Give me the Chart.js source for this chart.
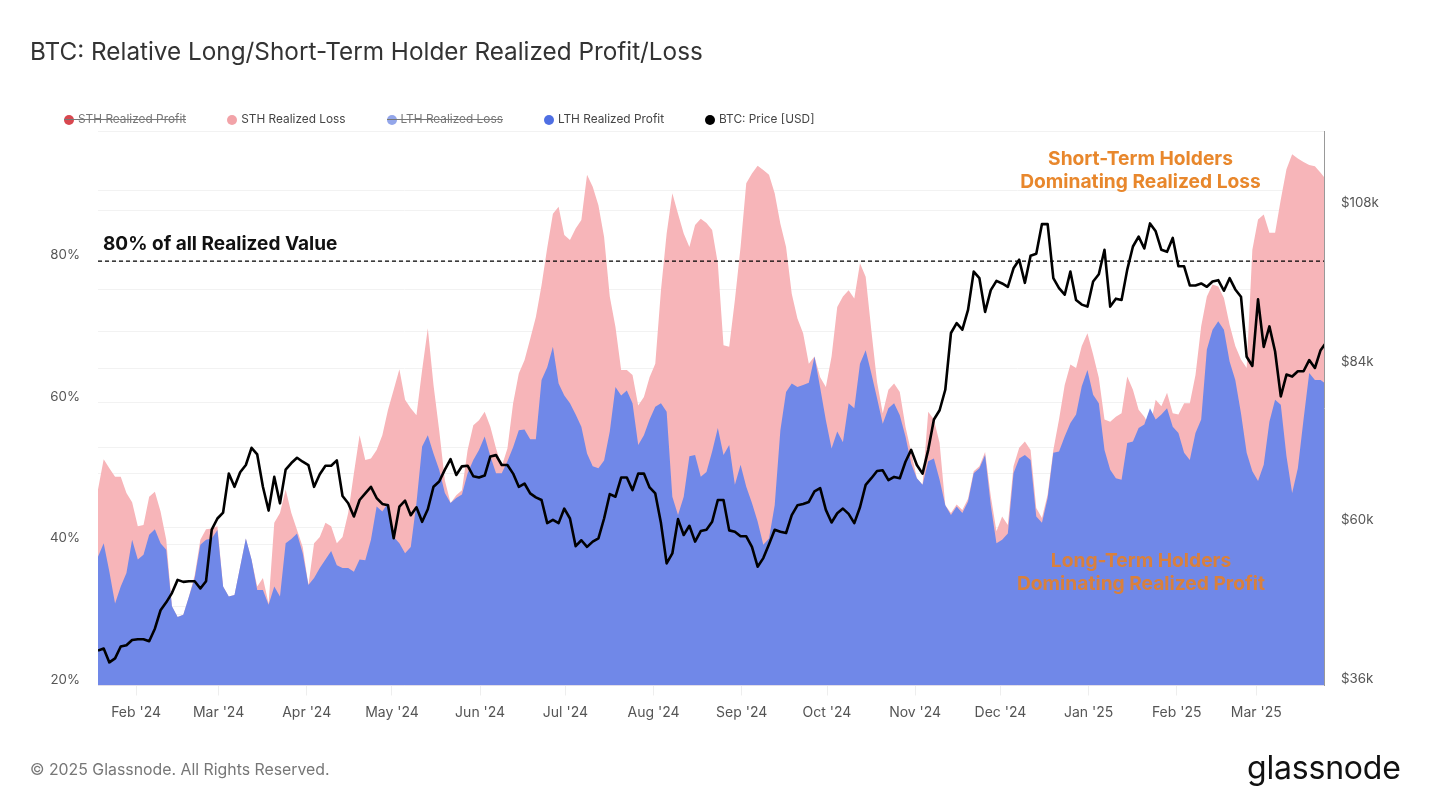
<!DOCTYPE html>
<html>
<head>
<meta charset="utf-8">
<title>BTC: Relative Long/Short-Term Holder Realized Profit/Loss</title>
<script src="https://cdn.jsdelivr.net/npm/chart.js@4/dist/chart.umd.min.js"></script>
<style>
    body { margin: 0; background: #fff; font-family: Inter, sans-serif; }
    #wrap { position: relative; width: 1431px; height: 805px; overflow: hidden; }
    canvas { position: absolute; left: 0; top: 0; }
    .txt { position: absolute; white-space: nowrap; }
    #title { left: 30px; top: 36px; font-size: 24.3px; line-height: 30px; color: #333; }
    #copy { left: 30px; top: 760px; font-size: 15.85px; line-height: 20px; color: #777; }
    #logo { left: 1247px; top: 746px; font-size: 32px; line-height: 44px; color: #111; letter-spacing: -0.2px; }
    #legend { position: absolute; left: 64px; top: 111px; display: flex; gap: 41px; font-size: 11.85px; line-height: 17px; color: #444; }
    .item { position: relative; display: flex; align-items: center; gap: 4px; }
    .item.off { color: #777; }
    .item.off::after { content: ''; position: absolute; left: 0; right: 0; top: 8px; height: 1px; background: #777; }
    .dot { width: 10px; height: 10px; border-radius: 50%; }
    .note { text-align: center; font-size: 19.2px; line-height: 23px; font-weight: 700; }
    #note80 { left: 103px; top: 232px; font-size: 19px; line-height: 24px; font-weight: 700; color: #111; }
    #noteLoss { left: 1000px; width: 281px; top: 147px; color: #e8872c; }
    #noteProfit { left: 1000px; width: 282px; top: 549px; color: #d9803c; }
</style>
</head>
<body>
<div id="wrap">
    <canvas id="chart" width="1431" height="805"></canvas>
    <div class="txt" id="title">BTC: Relative Long/Short-Term Holder Realized Profit/Loss</div>
    <div id="legend"></div>
    <div class="txt" id="note80">80% of all Realized Value</div>
    <div class="txt note" id="noteLoss">Short-Term Holders<br>Dominating Realized Loss</div>
    <div class="txt note" id="noteProfit">Long-Term Holders<br>Dominating Realized Profit</div>
    <div class="txt" id="copy">© 2025 Glassnode. All Rights Reserved.</div>
    <div class="txt" id="logo">glassnode</div>
</div>
<script>
// samples are 2 days apart, first one is 18 Jan 2024
const stepDays = 2;

// month ticks, in days after the first sample
const monthLabels = ["Feb '24", "Mar '24", "Apr '24", "May '24", "Jun '24", "Jul '24", "Aug '24", "Sep '24", "Oct '24", "Nov '24", "Dec '24", "Jan '25", "Feb '25", "Mar '25"];
const monthDays = [13.4, 42.4, 73.4, 103.4, 134.4, 164.4, 195.4, 226.4, 256.4, 287.4, 317.4, 348.4, 379.4, 407.4];

// LTH Realized Profit, share of all realized value (%)
const lthProfit = [
    38.2, 40.1, 36.1, 31.6, 34, 35.9, 40.6, 37.8, 38.5, 41.3, 42.1, 40.1, 39.2, 31.2, 29.7, 30, 32.6, 35.2, 39.9, 40.6,
    40.8, 42, 34, 32.6, 32.8, 36.8, 40.8, 37.8, 33.5, 33.5, 31.4, 34, 32.6, 40.1, 40.7, 41.5, 38.7, 34.2, 35.2, 36.6,
    37.8, 39, 37, 36.6, 36.6, 36.1, 37.8, 37.7, 40.6, 45.3, 44.6, 45.8, 41, 40.1, 38.7, 39.6, 45.8, 53.8, 55.4, 52.8,
    50.5, 47.2, 45.8, 46.5, 47, 50, 51.9, 53.3, 55.2, 52.4, 50, 50, 51.7, 53.7, 56.1, 56.2, 54.8, 54.8, 63.2, 65,
    67.9, 62.7, 61, 59.9, 58.3, 56.6, 52.8, 51, 50.7, 51.8, 55.9, 62.2, 61, 61.7, 59.9, 54, 55.4, 57.6, 59.4, 59.9,
    58.7, 46.7, 44.1, 46.7, 52.4, 52.6, 49.5, 50.2, 53.1, 56.4, 52.6, 54, 48.4, 51.2, 48.1, 45.8, 43.2, 39.9, 40.8, 45.5,
    56.1, 61.5, 62.7, 62.2, 62.5, 62.8, 66.5, 62.1, 57.5, 53.5, 55.9, 54.4, 59.9, 59.2, 65.5, 67.4, 64.1, 60.6, 57, 59.2,
    59.9, 58.2, 55.2, 51.4, 49.3, 48.4, 51.7, 52.1, 49.1, 45.5, 44.1, 45.3, 44.4, 46, 50, 50.7, 52.6, 45.5, 40.1, 40.6,
    41.5, 50, 52.1, 52.6, 51.9, 43.9, 43, 46.5, 52.9, 53.1, 55.2, 57.1, 58.3, 62.3, 64.6, 61.1, 59.9, 53.3, 50.5, 49.3,
    49.1, 54.3, 54.5, 56.4, 56.9, 59.2, 57.6, 58.3, 59.2, 56.6, 55.7, 52.9, 51.9, 55.7, 57.6, 67.5, 70.3, 71.5, 70.3, 65.8,
    63.2, 58.5, 52.9, 50.3, 48.9, 51.2, 57.3, 60.4, 59.7, 52.4, 47.2, 50.7, 57.6, 64.2, 63.2, 63.2, 62.6
];

// top edge of the STH Realized Loss band, stacked over LTH profit (%)
const sthLossTop = [
    47.7, 52, 50.7, 49.5, 49.5, 47.2, 45.9, 42.5, 42.7, 46.7, 47.4, 44.6, 40.6, 31.2, 29.7, 30, 32.6, 35.6, 40.6, 42.1,
    42.2, 42.5, 34, 32.6, 32.8, 36.8, 40.8, 37.8, 34, 35.2, 31.6, 43, 44.4, 47.7, 44.4, 42, 39.6, 34.2, 40.1, 41,
    43, 42.5, 40.1, 41, 44.4, 50, 55.4, 51.9, 52.1, 53.3, 55.4, 59, 61.8, 64.7, 60.4, 59.2, 58.2, 64.6, 70.5, 62.5,
    56.1, 49, 45.8, 46.9, 47.6, 53.3, 56.8, 57.5, 58.7, 56.6, 53.5, 51, 53.5, 59.9, 64.1, 66, 69, 72.1, 76.6, 81.9,
    86.7, 87.7, 83.7, 83, 84.6, 85.8, 92.2, 90.5, 87.9, 83.4, 75, 70.7, 64.6, 64.6, 63.9, 59.6, 60.8, 63.6, 65.5, 75.9,
    83.9, 89.6, 86.7, 83.9, 82, 85.1, 86, 85.4, 84.4, 79.7, 68.1, 67.9, 74.5, 82, 91, 92.4, 93.5, 92.9, 92.2, 89.6,
    85.3, 82, 75.4, 71.9, 69.8, 65.5, 66.5, 63.6, 62.2, 66.5, 73.5, 75, 75.9, 74.7, 79.7, 77.8, 70.2, 62.9, 58.5, 61.8,
    62.7, 61.5, 56.6, 53, 49.3, 48.4, 58.7, 57.6, 54.3, 45.5, 44.4, 45.6, 44.8, 46.4, 50.3, 51, 53, 46.8, 41.8, 43.9,
    42.7, 51, 53.6, 54.5, 53.3, 45.1, 43.7, 47, 53.3, 57.6, 62.5, 65.4, 64.9, 68, 69.8, 66.8, 63.5, 57.6, 57.3, 58,
    58.5, 63.7, 61.8, 59, 58, 56.6, 60.4, 59.5, 61.4, 58.5, 58.3, 59.9, 59.9, 63.9, 70.8, 75, 76.7, 76.4, 74.8, 71,
    68, 66.1, 64.9, 81.6, 85.9, 86.6, 84, 84, 88.7, 93, 95.1, 94.5, 94, 93.6, 93.4, 92.5, 91.5
];

// BTC price (thousand USD)
const btcPrice = [
    41.3, 41.6, 39.5, 40.1, 41.9, 42.1, 42.9, 43, 43, 42.7, 44.6, 47.4, 48.6, 50, 52, 51.7, 51.8, 51.8, 50.7, 51.8,
    59.6, 61.3, 62.2, 68.1, 66.1, 68.3, 69.4, 72, 71, 66.1, 62.5, 67.6, 63.6, 68.7, 69.7, 70.5, 69.9, 69.4, 66.1, 68,
    69.3, 69.3, 70.1, 64.7, 63.6, 61.6, 64.1, 65.1, 66.1, 64.4, 63.5, 63.3, 58.3, 63.1, 64, 61.8, 63, 60.8, 62.7, 66.1,
    66.9, 68.7, 70.3, 67.9, 69.2, 69.3, 67.7, 67.5, 67.8, 70.7, 70.9, 69.4, 69.4, 68.1, 66.1, 66.6, 65.1, 64.5, 64.1, 60.6,
    61.1, 60.6, 62.8, 61.3, 57.1, 58, 57, 57.8, 58.3, 61.3, 65, 64.6, 67.5, 67.5, 65.6, 68.1, 68.1, 66, 65.1, 60.6,
    54.5, 56, 61.2, 58.8, 60.2, 57.8, 59.4, 59.6, 60.8, 64.1, 64.1, 59.5, 59.3, 58.6, 58.6, 57, 54, 55.3, 57.4, 59.6,
    59.3, 59.1, 61.8, 63.3, 63.5, 63.8, 65.4, 65.9, 62.6, 60.7, 62.1, 62.8, 62, 60.6, 63, 66.4, 67.4, 68.5, 68.6, 67.1,
    67.6, 67.4, 69.9, 71.7, 69.4, 68.1, 71.7, 76.3, 77.7, 80.8, 89.4, 90.9, 89.9, 92.9, 98.7, 97.7, 92.6, 95.9, 97.3, 96.9,
    96.4, 99.2, 100.5, 97, 101.1, 101.4, 105.9, 105.9, 97.7, 96.2, 95.2, 98.7, 94.4, 93.7, 93.4, 97.2, 98.3, 102, 93.4, 94.6,
    94.4, 99, 102.5, 104, 102.2, 106, 104.8, 102, 101.7, 103.8, 99.5, 99.5, 96.6, 96.6, 96.9, 96.4, 97.2, 97.4, 95.8, 97.7,
    96, 94.9, 85.8, 84.4, 94.5, 87.3, 90.4, 86.6, 79.8, 83.1, 82.8, 83.6, 83.6, 85.3, 84.1, 86.8, 88
];

const threshold = [80, 80];

const legendNames = ['STH Realized Profit', 'STH Realized Loss', 'LTH Realized Loss', 'LTH Realized Profit', 'BTC: Price [USD]'];
const legendColors = ['#d8474f', '#f2a3a8', '#93a6ea', '#4f6fe3', '#000000'];
const legendHidden = [true, false, true, false, false];

function toPoints(values) {
    return values.map((v, i) => ({ x: i * stepDays, y: v }));
}

function buildLegend() {
    const box = document.getElementById('legend');
    legendNames.forEach((name, i) => {
        const item = document.createElement('div');
        item.className = legendHidden[i] ? 'item off' : 'item';
        const dot = document.createElement('span');
        dot.className = 'dot';
        dot.style.background = legendColors[i];
        const label = document.createElement('span');
        label.textContent = name;
        item.appendChild(dot);
        item.appendChild(label);
        box.appendChild(item);
    });
}

buildLegend();

const xTickFont = { family: 'Inter', size: 14 };
const yTickFont = { family: 'Inter', size: 13.3 };
const dayMax = 431.2;

new Chart(document.getElementById('chart'), {
    type: 'line',
    data: {
        datasets: [
            {
                label: 'STH Realized Loss',
                data: toPoints(sthLossTop),
                yAxisID: 'y',
                backgroundColor: '#f7b5b9',
                borderWidth: 0,
                pointRadius: 0,
                fill: 'origin',
                order: 4
            },
            {
                label: 'LTH Realized Profit',
                data: toPoints(lthProfit),
                yAxisID: 'y',
                backgroundColor: '#7088e8',
                borderWidth: 0,
                pointRadius: 0,
                fill: 'origin',
                order: 3
            },
            {
                label: '80%',
                data: [{ x: 0, y: threshold[0] }, { x: dayMax, y: threshold[1] }],
                yAxisID: 'y',
                borderColor: '#000',
                borderWidth: 1.2,
                borderDash: [4, 3],
                pointRadius: 0,
                fill: false,
                order: 2
            },
            {
                label: 'BTC: Price [USD]',
                data: toPoints(btcPrice),
                yAxisID: 'y1',
                borderColor: '#000',
                borderWidth: 2.6,
                borderJoinStyle: 'round',
                pointRadius: 0,
                fill: false,
                order: 1
            }
        ]
    },
    options: {
        responsive: false,
        animation: false,
        layout: { padding: { top: 131, left: 0, right: 0, bottom: 0 } },
        plugins: { legend: { display: false }, tooltip: { enabled: false } },
        scales: {
            x: {
                type: 'linear',
                min: 0,
                max: dayMax,
                afterBuildTicks: function(scale) {
                    scale.ticks = monthDays.map(d => ({ value: d }));
                },
                afterFit: function(scale) { scale.height = 119.5; },
                grid: { drawOnChartArea: false, tickLength: 10, color: '#eeeeee' },
                border: { display: false },
                ticks: {
                    autoSkip: false,
                    maxRotation: 0,
                    padding: 9,
                    color: '#555',
                    font: xTickFont,
                    callback: function(value) {
                        return monthLabels[monthDays.indexOf(value)];
                    }
                }
            },
            y: {
                position: 'left',
                min: 20,
                max: 98.4,
                afterFit: function(scale) { scale.width = 98; },
                grid: { color: '#f2f2f2', drawTicks: false },
                border: { display: false },
                ticks: {
                    stepSize: 10,
                    autoSkip: false,
                    padding: 18,
                    labelOffset: -6,
                    color: '#555',
                    font: yTickFont,
                    callback: function(value) {
                        return value % 20 === 0 ? value + '%' : '';
                    }
                }
            },
            y1: {
                position: 'right',
                min: 36,
                max: 120,
                afterFit: function(scale) { scale.width = 107; },
                grid: { color: '#f2f2f2', drawTicks: false },
                border: { display: true, color: '#999' },
                ticks: {
                    stepSize: 12,
                    autoSkip: false,
                    padding: 17,
                    labelOffset: -7,
                    color: '#555',
                    font: yTickFont,
                    callback: function(value) {
                        return (value - 36) % 24 === 0 && value < 120 ? '$' + value + 'k' : '';
                    }
                }
            }
        }
    }
});
</script>
</body>
</html>
